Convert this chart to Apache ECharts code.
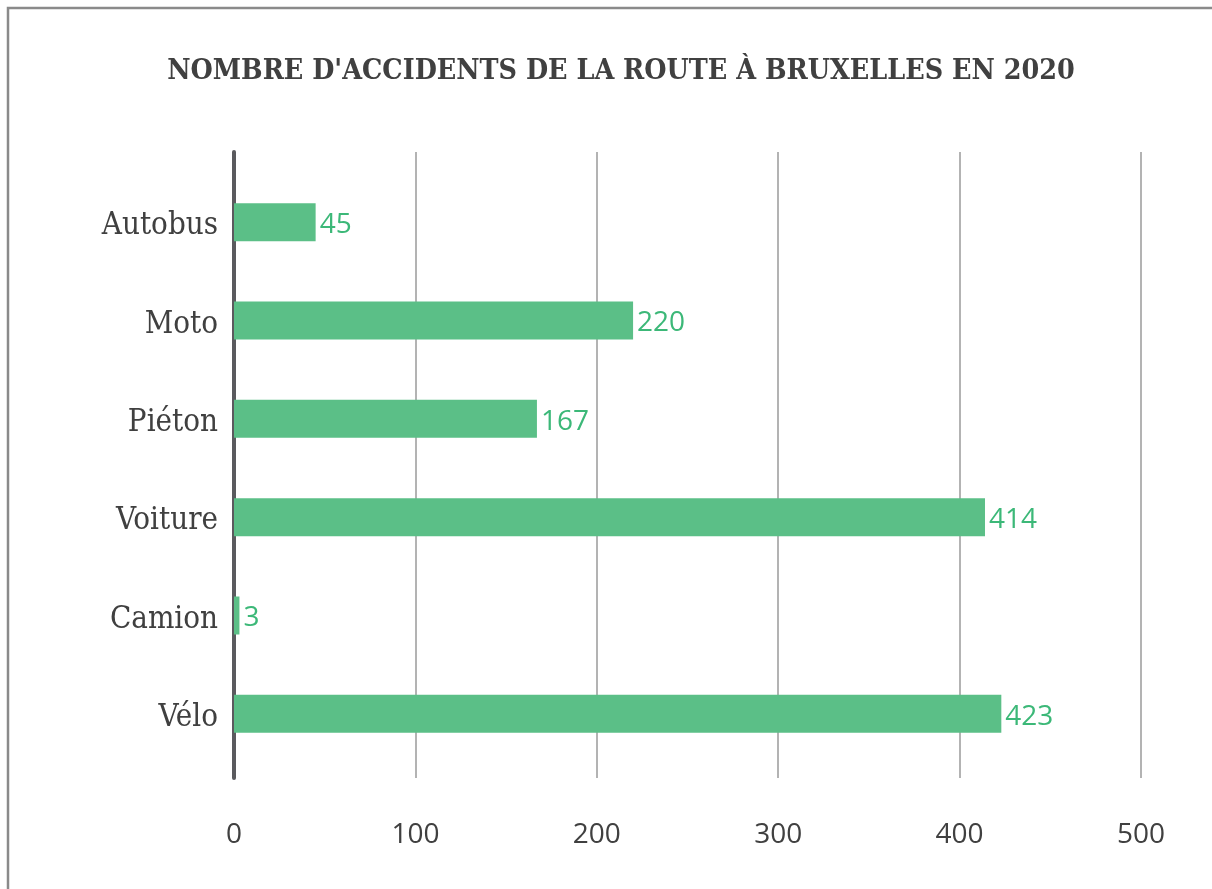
<!DOCTYPE html>
<html>
<head>
<meta charset="utf-8">
<style>
  html, body { margin: 0; padding: 0; background: #ffffff; }
  #chart { width: 1212px; height: 889px; }
</style>
<script src="https://cdn.jsdelivr.net/npm/echarts@6/dist/echarts.min.js"></script>
</head>
<body>
<div id="chart"></div>
<script>
// Road accidents in Brussels, 2020, by type of road user
const categories = ['Autobus', 'Moto', 'Piéton', 'Voiture', 'Camion', 'Vélo'];
const accidents = [45, 220, 167, 414, 3, 423];
const xTicks = [0, 100, 200, 300, 400, 500];

const titleText = "NOMBRE D'ACCIDENTS DE LA ROUTE À BRUXELLES EN 2020";

const chart = echarts.init(document.getElementById('chart'), null, { renderer: 'canvas' });

const xMin = xTicks[0];
const xMax = xTicks[xTicks.length - 1];
const xStep = xTicks[1] - xTicks[0];

chart.setOption({
  backgroundColor: '#ffffff',
  animation: false,
  title: {
    text: titleText,
    left: 616,
    top: 53,
    textAlign: 'center',
    textStyle: {
      fontFamily: 'DejaVu Serif Condensed, DejaVu Serif, serif',
      fontWeight: 'bold',
      fontSize: 28.4,
      color: '#404040'
    }
  },
  graphic: [{
    type: 'rect',
    shape: { x: 8, y: 8, width: 1230, height: 900 },
    style: { fill: 'none', stroke: '#8a8a8a', lineWidth: 2.5 },
    silent: true
  }],
  grid: [
    // bars
    { left: 234, right: 71, top: 173, bottom: 126, containLabel: false },
    // frame: gridlines, value ticks and the vertical axis line
    { left: 234, right: 71, top: 152, bottom: 111, containLabel: false }
  ],
  xAxis: [
    {
      gridIndex: 0, type: 'value', min: xMin, max: xMax, interval: xStep,
      axisLine: { show: false }, axisTick: { show: false },
      axisLabel: { show: false }, splitLine: { show: false }
    },
    {
      gridIndex: 1, type: 'value', min: xMin, max: xMax, interval: xStep,
      axisLine: { show: false }, axisTick: { show: false },
      axisLabel: {
        show: true, margin: 43,
        fontFamily: 'Open Sans, Noto Sans, sans-serif',
        fontSize: 28, color: '#404040'
      },
      splitLine: {
        show: true,
        lineStyle: { color: '#b3b3b3', width: 2 }
      }
    }
  ],
  yAxis: [
    {
      gridIndex: 0, type: 'category', data: categories, inverse: true,
      axisLine: { show: false }, axisTick: { show: false },
      axisLabel: {
        margin: 16,
        formatter: '{c|{value}}',
        rich: {
          c: {
            padding: [8, 0, 0, 0],
            fontFamily: 'DejaVu Serif Condensed, DejaVu Serif, serif',
            fontSize: 31, color: '#404040'
          }
        }
      }
    },
    {
      gridIndex: 1, type: 'category', data: [],
      axisLine: {
        show: true,
        lineStyle: { color: '#5a5a5e', width: 4, cap: 'round' }
      },
      axisTick: { show: false }, axisLabel: { show: false },
      splitLine: { show: false }
    }
  ],
  series: [{
    type: 'bar',
    xAxisIndex: 0,
    yAxisIndex: 0,
    data: accidents,
    barWidth: 38,
    itemStyle: { color: '#5bbf87' },
    label: {
      show: true,
      position: 'right',
      distance: 4,
      offset: [0, 3],
      fontFamily: 'Open Sans, Noto Sans, sans-serif',
      fontSize: 28,
      color: '#3cb878'
    }
  }]
});
</script>
</body>
</html>
